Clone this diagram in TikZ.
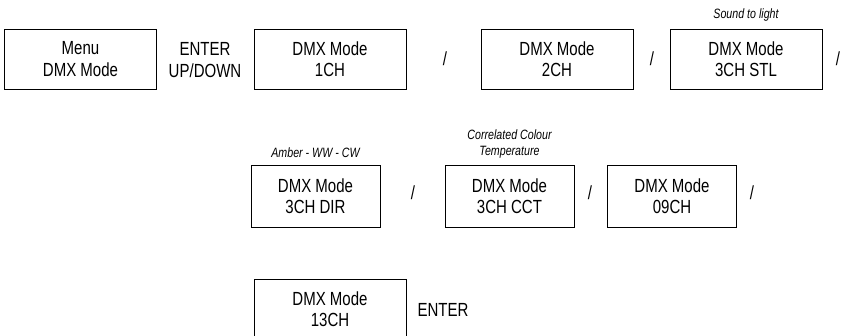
\documentclass[tikz,border=0pt]{standalone}
\usepackage{fontspec}
\setmainfont{Liberation Sans}[FakeStretch=0.79]
\usetikzlibrary{positioning}

\begin{document}
\begin{tikzpicture}[x=1pt,y=-1pt,
  every node/.style={font=\fontsize{19}{21.5}\selectfont,align=center,inner sep=0pt},
  modebox/.style={draw,line width=0.8pt,minimum width=152pt,minimum height=60pt},
  narrowbox/.style={modebox,minimum width=129pt,minimum height=62pt},
  note/.style={font=\fontsize{13.5}{16}\selectfont\itshape}]
\clip (0,0) rectangle (841,336);
% first row
\node[modebox] (menu) at (80.5,59) {Menu\\DMX Mode};
\node (enterupdown) at (205,60) {ENTER\\UP/DOWN};
\node[modebox] (ch1) at (330,59) {DMX Mode\\1CH};
\node (sl1) at (445,59) {/};
\node[modebox] (ch2) at (557,59) {DMX Mode\\2CH};
\node (sl2) at (652,59) {/};
\node[modebox] (stl) at (746,59) {DMX Mode\\3CH STL};
\node (sl3) at (838,59) {/};
\node[note,above=7pt of stl] (stlnote) {Sound to light};
% second row
\node[narrowbox] (dir) at (315.5,196) {DMX Mode\\3CH DIR};
\node (sl4) at (413,193) {/};
\node[narrowbox] (cct) at (509.5,196) {DMX Mode\\3CH CCT};
\node (sl5) at (590,193) {/};
\node[narrowbox] (ch09) at (672,196) {DMX Mode\\09CH};
\node (sl6) at (752,193) {/};
\node[note,above=7pt of dir] (dirnote) {Amber - WW - CW};
\node[note,above=6pt of cct] (cctnote) {Correlated Colour\\Temperature};
% last row
\node[modebox] (ch13) at (330,309) {DMX Mode\\13CH};
\node (enter) at (443,310) {ENTER};
\end{tikzpicture}
\end{document}
